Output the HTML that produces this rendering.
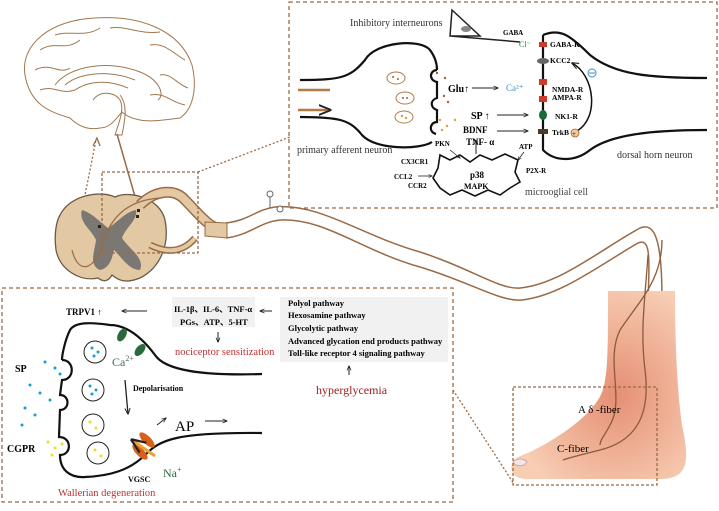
<!DOCTYPE html>
<html><head><meta charset="utf-8"><style>
html,body{margin:0;padding:0;background:#fff;}
svg{display:block;font-family:"Liberation Serif",serif;}
</style></head><body>
<svg width="719" height="511" viewBox="0 0 719 511" xmlns="http://www.w3.org/2000/svg">
<defs>
<marker id="a" viewBox="0 0 10 10" refX="9" refY="5" markerWidth="5" markerHeight="5" orient="auto"><path d="M0,1 L10,5 L0,9" fill="none" stroke="#222" stroke-width="1.5"/></marker>
<radialGradient id="sk" cx="0.6" cy="0.55" r="0.6"><stop offset="0" stop-color="#e58f74"/><stop offset="1" stop-color="#f7cdb3"/></radialGradient>
</defs>

<!-- brain -->
<g fill="none" stroke="#a07850" stroke-width="1">
<path d="M25,75 C20,45 50,20 95,18 C140,15 180,30 192,65 C198,90 192,110 180,118 C165,120 150,122 140,120 C130,118 125,115 122,112 C115,120 110,128 100,128 C90,130 80,128 70,118 C50,112 30,105 25,75Z" fill="#fff"/>
<path d="M40,50 C55,40 65,52 80,40 M55,35 C70,30 85,38 100,28 M110,28 C125,25 140,35 160,32 M150,45 C165,42 175,55 185,60 M35,70 C50,62 60,75 70,68 M40,90 C55,85 60,95 75,90 M160,75 C170,72 178,85 188,88 M150,95 C165,92 170,102 185,105"/>
<path d="M55,85 C70,65 110,60 140,72 C160,80 165,95 158,100 M65,85 C80,72 110,70 135,80 M75,90 C90,80 110,80 128,88" />
<path d="M93,100 C100,90 115,92 120,100 C125,110 118,125 115,135 L122,135 C125,120 128,105 120,95"/>
</g>
<path d="M117,134 L138,207" stroke="#9a6a45" stroke-width="1.5"/>
<g stroke="#9a6a45" stroke-width="1.3" stroke-dasharray="2,2" fill="none">
<path d="M75,245 L96,140"/>
<path d="M198,172 L290,137"/>
<path d="M453,390 L514,484"/>
</g>
<path d="M93,146 L97,138 L100,146" fill="none" stroke="#9a6a45" stroke-width="1.3"/>

<!-- nerve tube -->
<g fill="none" stroke="#9a6a45" stroke-width="1.5">
<path d="M226,223 C250,220 255,210 275,207 C320,203 360,235 420,252 C470,268 500,290 520,288 C560,284 600,250 640,228 C655,222 662,240 662,300"/>
<path d="M226,238 C250,235 260,222 280,220 C325,218 360,250 420,267 C470,282 500,302 522,300 C560,296 600,265 638,243 C650,238 650,255 648,300"/>
</g>
<circle cx="270" cy="194" r="3" fill="#fff" stroke="#666"/><path d="M270,197 L270,208" stroke="#666"/>
<circle cx="280" cy="209" r="3" fill="#fff" stroke="#666"/>

<!-- spinal cord -->
<path d="M60,215 C70,195 100,190 115,197 C130,190 160,198 165,220 C170,245 160,268 140,278 C125,284 118,280 112,275 C108,282 103,282 98,278 C80,282 60,270 56,250 C54,235 56,222 60,215Z" fill="#e2c8a3" stroke="#6b5a48" stroke-width="1.3"/>
<path d="M82,210 C92,213 100,222 108,228 C118,222 125,212 136,210 C138,220 125,228 122,238 C130,250 145,258 140,270 C128,270 120,255 114,250 C112,258 110,268 100,270 C88,265 95,250 96,240 C92,230 78,222 82,210Z" fill="#7b7772"/>
<path d="M140,205 C155,190 175,188 185,200 C200,215 210,230 226,230" fill="none" stroke="#9a6a45" stroke-width="11"/>
<path d="M140,205 C155,190 175,188 185,200 C200,215 210,230 226,230" fill="none" stroke="#e2c8a3" stroke-width="8"/>
<path d="M150,245 C170,255 185,250 195,238" fill="none" stroke="#9a6a45" stroke-width="7"/>
<path d="M150,245 C170,255 185,250 195,238" fill="none" stroke="#e2c8a3" stroke-width="4"/>
<path d="M205,222 L227,223 L227,238 L205,236Z" fill="#e2c8a3" stroke="#9a6a45"/>
<path d="M72,250 C78,275 95,272 104,240 C112,215 130,200 160,198" fill="none" stroke="#9a6a45" stroke-width="1.2"/>
<rect x="98" y="225" width="3" height="3" fill="#222"/><rect x="137" y="209" width="3" height="3" fill="#222"/><rect x="136" y="215" width="3" height="3" fill="#222"/>
<rect x="102" y="172" width="96" height="81" fill="none" stroke="#9a6a45" stroke-width="1.3" stroke-dasharray="3,2"/>

<!-- foot -->
<path d="M608,291 L675,291 C675,340 677,390 682,425 C690,462 688,478 662,479 L525,479 C514,478 510,472 512,464 C514,458 520,456 530,452 C555,440 585,420 598,400 C608,385 608,360 608,291Z" fill="url(#sk)"/>
<path d="M513,462 C516,458 524,458 527,462 C524,467 516,467 513,462Z" fill="#f3e6e6" stroke="#caa"/>
<g fill="none" stroke="#8a5a3a" stroke-width="1.3">
<path d="M662,240 C662,280 640,300 620,330 C605,360 625,400 610,425 C605,435 600,440 600,445"/>
<path d="M648,255 C645,300 640,330 645,370 C650,410 640,440 600,450 C580,455 568,458 563,460"/>
</g>
<rect x="513" y="387" width="144" height="98" fill="none" stroke="#9a6a45" stroke-width="1.3" stroke-dasharray="3,2"/>
<text x="578" y="413" font-size="11">A δ -fiber</text>
<text x="557" y="452" font-size="11">C-fiber</text>

<!-- TOP RIGHT BOX -->
<rect x="289" y="2" width="428" height="206" fill="none" stroke="#9a6a45" stroke-width="1.3" stroke-dasharray="4,3"/>
<text x="350" y="26" font-size="10" fill="#333">Inhibitory interneurons</text>
<path d="M452,10 L480,36 L450,36 Z M450,36 L520,42" fill="#fff" stroke="#222" stroke-width="1.5"/>
<ellipse cx="466" cy="29" rx="5" ry="3" fill="#888"/>
<text x="503" y="35" font-size="7" font-weight="bold">GABA</text>
<text x="519" y="47" font-size="8" fill="#2a8a3a">Cl⁻</text>
<g fill="none" stroke="#111" stroke-width="2.2">
<path d="M300,80 C340,80 350,78 365,60 C375,42 420,38 430,50 C436,58 437,65 437,70"/>
<path d="M300,117 C340,117 350,120 362,135 C375,150 420,150 432,142"/>
<path d="M437,70 C430,70 428,80 437,82 L437,98 C430,100 430,108 437,110 L437,122 C430,122 428,132 436,134"/>
<path d="M543,35 C560,28 570,35 590,55 C615,75 650,78 707,78"/>
<path d="M543,35 L543,150 C555,162 575,162 590,150 C610,135 650,130 707,130"/>
<path d="M440,155 L450,160 L460,155 L470,162 L480,155 L492,160 L505,154 L518,160 L515,172 L520,182 L510,188 L500,195 L488,190 L475,196 L462,190 L450,195 L440,188 L433,178 L438,168 Z" stroke-width="1.6"/>
</g>
<path d="M298,90 L330,90 M298,110 L330,110" stroke="#b07a45" stroke-width="2.5" marker-end="url(#a)"/>
<g fill="#fff" stroke="#b07a45" stroke-width="1"><ellipse cx="396" cy="78" rx="9" ry="6"/><ellipse cx="405" cy="98" rx="9" ry="6"/><ellipse cx="404" cy="117" rx="9" ry="6"/></g>
<g fill="#a0603a"><circle cx="393" cy="77" r="1"/><circle cx="398" cy="79" r="1"/><circle cx="403" cy="98" r="1"/><circle cx="407" cy="98" r="1"/><circle cx="437" cy="73" r="1.2"/><circle cx="445" cy="78" r="1.2"/><circle cx="444" cy="96" r="1.2"/><circle cx="448" cy="102" r="1.2"/></g>
<g fill="#d4a040"><circle cx="402" cy="116" r="1.2"/><circle cx="406" cy="118" r="1.2"/><circle cx="440" cy="120" r="1.2"/><circle cx="447" cy="126" r="1.2"/><circle cx="455" cy="120" r="1.2"/><circle cx="442" cy="130" r="1.2"/></g>
<rect x="539" y="42" width="8" height="5" fill="#d03a2a"/><ellipse cx="543" cy="61" rx="6" ry="3" fill="#666"/>
<rect x="539" y="79" width="8" height="6" fill="#d03a2a"/><rect x="539" y="96" width="8" height="6" fill="#d03a2a"/>
<ellipse cx="543" cy="115" rx="4" ry="5" fill="#1a6a3a"/><rect x="538" y="129" width="10" height="5" fill="#4a3a2a"/>
<g font-size="7.5" font-weight="bold"><text x="550" y="47">GABA-R</text><text x="550" y="63">KCC2</text><text x="552" y="92">NMDA-R</text><text x="552" y="100">AMPA-R</text><text x="555" y="119">NK1-R</text><text x="552" y="135">TrkB</text></g>
<text x="448" y="92" font-size="10" font-weight="bold">Glu↑</text>
<path d="M472,88 L498,88" stroke="#222" marker-end="url(#a)"/>
<text x="506" y="91" font-size="9" fill="#3a90c8">Ca²⁺</text>
<text x="471" y="119" font-size="10" font-weight="bold">SP ↑</text>
<path d="M497,115 L528,115" stroke="#222" marker-end="url(#a)"/>
<text x="463" y="133" font-size="9" font-weight="bold">BDNF</text>
<text x="466" y="145" font-size="9" font-weight="bold">TNF- α</text>
<path d="M497,131 L528,131" stroke="#222" marker-end="url(#a)"/>
<path d="M575,132 C600,120 595,75 572,63" fill="none" stroke="#111" stroke-width="1.5" marker-end="url(#a)"/>
<circle cx="575" cy="133" r="4" fill="#f2c9a0" stroke="#a06030" stroke-width="0.8"/><text x="572" y="136" font-size="7">+</text>
<circle cx="592" cy="73" r="4" fill="none" stroke="#3a90c8"/><path d="M589,73 L595,73" stroke="#3a90c8"/>
<text x="297" y="153" font-size="10" fill="#333">primary afferent neuron</text>
<text x="617" y="158" font-size="10" fill="#333">dorsal horn neuron</text>
<text x="525" y="195" font-size="10" fill="#444">microoglial cell</text>
<g font-size="7" font-weight="bold"><text x="435" y="146">PKN</text><text x="401" y="164">CX3CR1</text><text x="394" y="179">CCL2</text><text x="408" y="188">CCR2</text><text x="519" y="149">ATP</text><text x="526" y="173">P2X-R</text></g>
<path d="M418,176 L432,176" stroke="#222" stroke-width="0.8" marker-end="url(#a)"/>
<path d="M450,150 L460,158" stroke="#222" stroke-width="0.8" marker-end="url(#a)"/>
<path d="M524,152 L518,160" stroke="#222" stroke-width="0.8" marker-end="url(#a)"/>
<text x="470" y="178" font-size="9" font-weight="bold">p38</text><text x="464" y="189" font-size="8" font-weight="bold">MAPK</text>
<path d="M476,154 L476,140" stroke="#222" marker-end="url(#a)"/>

<!-- BOTTOM LEFT BOX -->
<rect x="2" y="288" width="451" height="214" fill="none" stroke="#9a6a45" stroke-width="1.3" stroke-dasharray="4,3"/>
<rect x="172" y="297" width="83" height="30" fill="#f1f1f1"/>
<rect x="280" y="297" width="168" height="65" fill="#f1f1f1"/>
<text x="66" y="315" font-size="9" font-weight="bold">TRPV1 ↑</text>
<path d="M147,311 L122,311" stroke="#222" marker-end="url(#a)"/>
<text x="174" y="312" font-size="8.5" font-weight="bold">IL-1β、IL-6、TNF-α</text>
<text x="180" y="325" font-size="8.5" font-weight="bold">PGs、ATP、5-HT</text>
<path d="M272,311 L260,311" stroke="#222" marker-end="url(#a)"/>
<path d="M218,332 L218,342" stroke="#222" marker-end="url(#a)"/>
<text x="175" y="355" font-size="10.5" fill="#c03030">nociceptor sensitization</text>
<g font-size="8.5" font-weight="bold"><text x="288" y="306">Polyol pathway</text><text x="288" y="318">Hexosamine pathway</text><text x="288" y="331">Glycolytic pathway</text><text x="288" y="344">Advanced glycation end products pathway</text><text x="288" y="356">Toll-like receptor 4 signaling pathway</text></g>
<path d="M349,375 L349,366" stroke="#222" marker-end="url(#a)"/>
<text x="316" y="394" font-size="12" fill="#a02020">hyperglycemia</text>
<g fill="none" stroke="#111" stroke-width="2.2">
<path d="M262,374 C200,376 165,370 155,355 C140,335 125,325 110,325 C90,322 75,322 70,330 C65,340 62,355 62,360"/>
<path d="M62,360 C75,360 75,380 62,380 L60,395 C70,395 70,410 60,410 L59,437 C72,437 72,455 60,455 C60,470 70,478 85,477 C110,476 130,470 145,455 C160,440 175,432 262,433"/>
</g>
<g fill="#fff" stroke="#222" stroke-width="1"><circle cx="95" cy="352" r="11"/><circle cx="93" cy="390" r="11"/><circle cx="93" cy="425" r="11"/><circle cx="98" cy="453" r="11"/></g>
<g fill="#1a9ad6"><circle cx="92" cy="348" r="1.5"/><circle cx="98" cy="352" r="1.5"/><circle cx="94" cy="356" r="1.5"/><circle cx="90" cy="386" r="1.5"/><circle cx="96" cy="390" r="1.5"/><circle cx="92" cy="394" r="1.5"/><circle cx="45" cy="362" r="1.5"/><circle cx="55" cy="368" r="1.5"/><circle cx="60" cy="374" r="1.5"/><circle cx="30" cy="385" r="1.5"/><circle cx="40" cy="393" r="1.5"/><circle cx="50" cy="400" r="1.5"/><circle cx="25" cy="408" r="1.5"/><circle cx="35" cy="415" r="1.5"/><circle cx="22" cy="425" r="1.5"/></g>
<g fill="#f0dc20"><circle cx="90" cy="422" r="1.5"/><circle cx="96" cy="428" r="1.5"/><circle cx="95" cy="450" r="1.5"/><circle cx="101" cy="456" r="1.5"/><circle cx="48" cy="442" r="1.5"/><circle cx="55" cy="448" r="1.5"/><circle cx="62" cy="444" r="1.5"/><circle cx="52" cy="455" r="1.5"/></g>
<ellipse cx="122" cy="335" rx="4" ry="7" fill="#2a6a3a" transform="rotate(30 122 335)"/>
<ellipse cx="140" cy="350" rx="4" ry="7" fill="#2a6a3a" transform="rotate(40 140 350)"/>
<text x="112" y="366" font-size="12" fill="#4a6a5a">Ca<tspan font-size="8" dy="-5">2+</tspan></text>
<text x="133" y="391" font-size="8" font-weight="bold">Depolarisation</text>
<path d="M125,380 L128,414" stroke="#222" stroke-width="1.3" marker-end="url(#a)"/>
<ellipse cx="147" cy="440" rx="4" ry="10" fill="#d8601a" transform="rotate(-45 147 440)"/>
<ellipse cx="140" cy="452" rx="4" ry="10" fill="#d8601a" transform="rotate(-45 140 452)"/>
<path d="M155,456 L132,440" stroke="#f0a030" stroke-width="3" marker-end="url(#a)"/>
<path d="M157,425 L166,418" stroke="#222" marker-end="url(#a)"/>
<text x="175" y="431" font-size="15">AP</text>
<path d="M205,421 L227,421" stroke="#222" marker-end="url(#a)"/>
<text x="128" y="482" font-size="8" font-weight="bold">VGSC</text>
<text x="163" y="477" font-size="12" fill="#2a6a3a">Na<tspan font-size="8" dy="-5">+</tspan></text>
<text x="58" y="496" font-size="10.5" fill="#c03030">Wallerian degeneration</text>
<text x="15" y="372" font-size="10" font-weight="bold">SP</text>
<text x="7" y="452" font-size="10" font-weight="bold">CGPR</text>
</svg>
</body></html>
